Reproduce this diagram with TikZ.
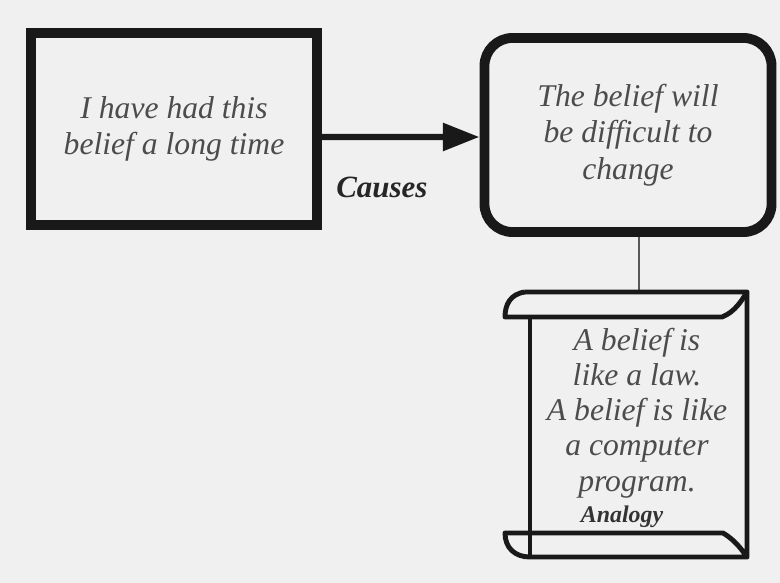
\documentclass[tikz,border=0pt]{standalone}
\usepackage{fontspec}
\setmainfont{Liberation Serif}
\usetikzlibrary{arrows.meta, positioning}

\begin{document}
\begin{tikzpicture}[x=0.025cm, y=-0.025cm,
		belief/.style={rectangle, draw=black!90, line width=7pt, minimum width=7.15cm, minimum height=4.8cm, align=center, text=black!70, font=\itshape\fontsize{22.5}{26}\selectfont},
		effect/.style={belief, rounded corners=0.7cm, minimum width=7.175cm, minimum height=4.85cm},
		arrow/.style={-{Triangle[length=26pt, width=19pt]}, line width=4.5pt, draw=black!90},
		scroll/.style={line width=3.5pt, draw=black!90, line join=round},
		note/.style={align=center, text=black!70, font=\itshape\fontsize{22.5}{25}\selectfont}
		]
		\fill[black!6] (0,0) rectangle (780,583);
		\node[belief] (habit) at (174,129) {I have had this\\belief a long time};
		\node[effect] (change) at (628,135) {The belief will\\be difficult to\\change};
		
		\draw[arrow] ([yshift=-0.2cm]habit.east) -- node[pos=0.38, below=0.8cm, text=black!85, font=\bfseries\itshape\fontsize{22}{24}\selectfont]{Causes} ([yshift=-0.05cm]change.west);
		
		% scroll
		\coordinate (scrolltop) at (639,292);
		\draw[line width=2pt, black!65] (change.south -| scrolltop) -- (scrolltop);
		\draw[scroll] (525,292) -- (747,292) -- (747,557) -- (530,557)
			.. controls (515,557) and (505,548) .. (505,533) -- (723,533)
			.. controls (735,540) and (742,550) .. (747,557);
		\draw[scroll] (747,292) .. controls (742,300) and (735,312) .. (722,317) -- (505,317)
			.. controls (505,305) and (510,294) .. (525,292);
		\draw[scroll] (530,317) -- (530,557);
		\node[note] (analogy) at (637,413) {A belief is\\like a law.\\A belief is like\\a computer\\program.};
		\node[text=black!80, font=\bfseries\itshape\fontsize{17}{19}\selectfont] (tag) at (622,517) {Analogy};
		
	\end{tikzpicture}
\end{document}
